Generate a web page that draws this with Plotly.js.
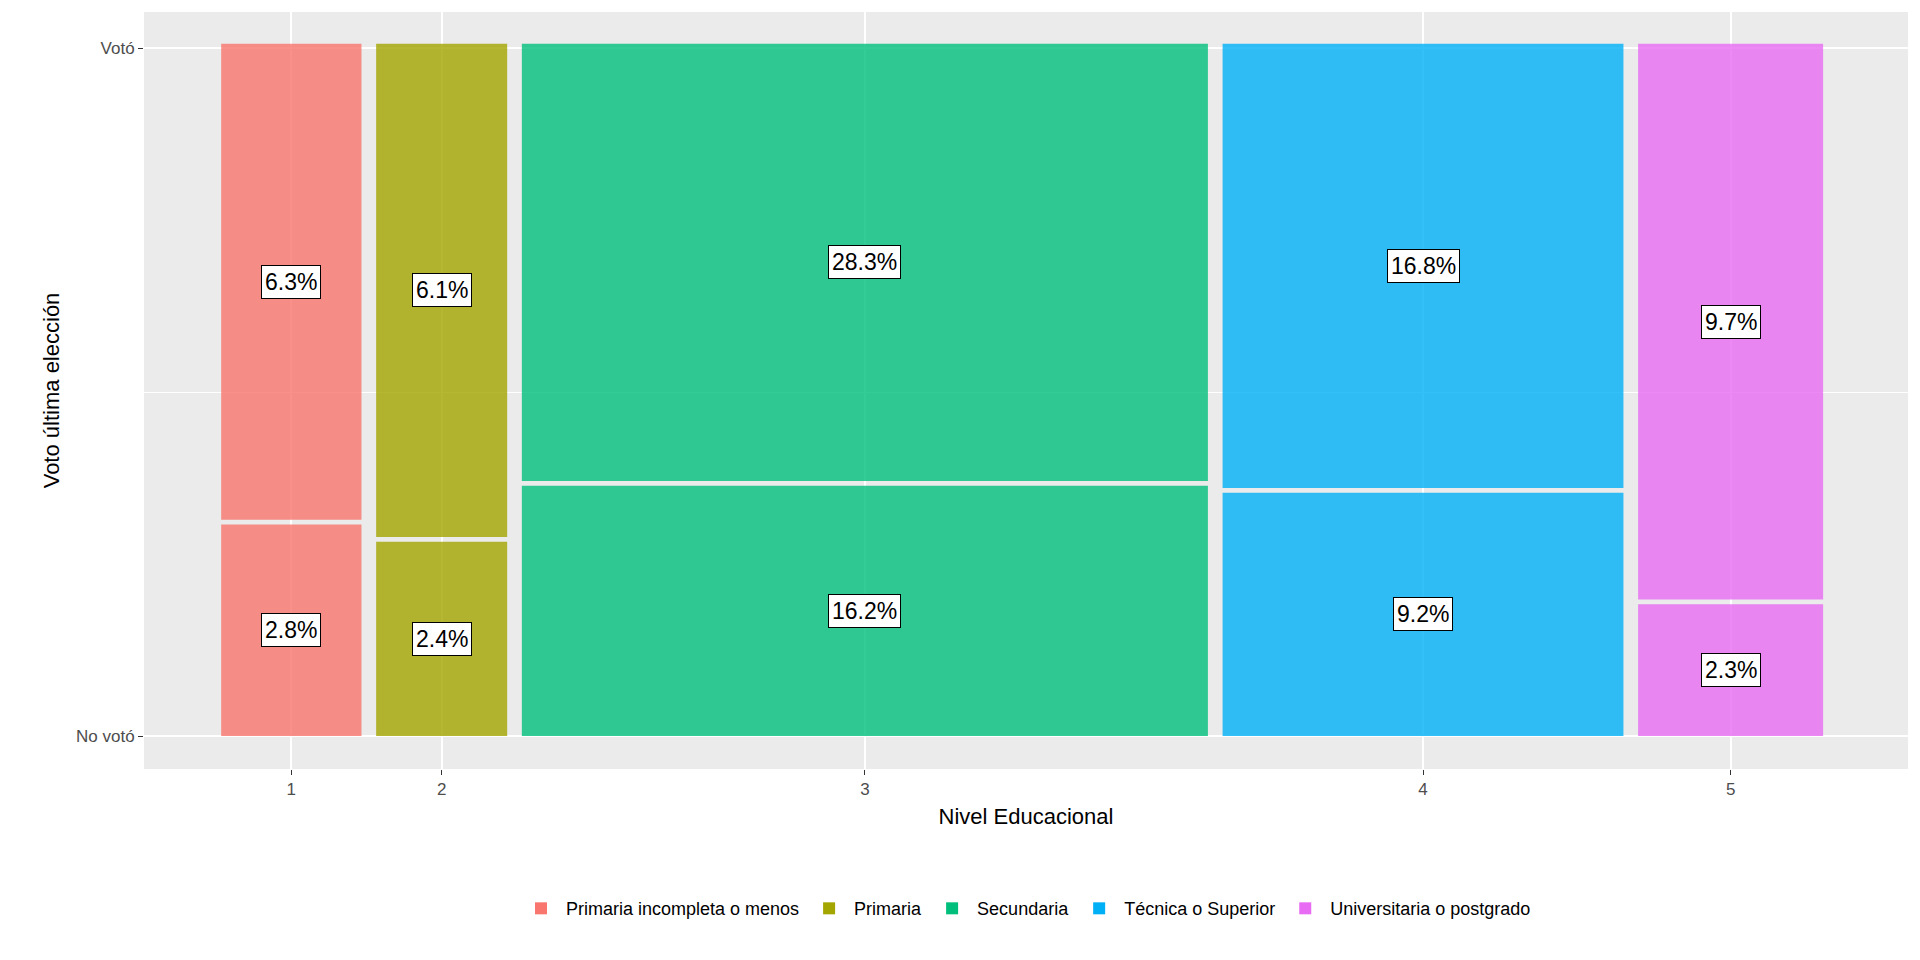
<!DOCTYPE html>
<html>
<head>
<meta charset="utf-8">
<script src="https://cdn.plot.ly/plotly-3.0.1.min.js"></script>
<style>body{margin:0}#chart{width:1920px;height:960px}</style>
</head>
<body>
<div id="chart"></div>
<script>
// percentages of total sample
const niveles = ["Primaria incompleta o menos", "Primaria", "Secundaria", "Técnica o Superior", "Universitaria o postgrado"];
const tickLabels = ["1", "2", "3", "4", "5"];
const noVoto = [2.8, 2.4, 16.2, 9.2, 2.3];
const voto = [6.3, 6.1, 28.3, 16.8, 9.7];
const colores = ["#F8766D", "#A3A500", "#00BF7D", "#00B0F6", "#E76BF3"];

const GAP_X = 0.0095;
const GAP_Y = 0.007;

const totals = niveles.map((_, i) => noVoto[i] + voto[i]);
const grand = totals.reduce((a, b) => a + b, 0);

const centers = [];
const widths = [];
let cursor = 0;
totals.forEach((t) => {
  const w = t / grand;
  centers.push(cursor + w / 2);
  widths.push(w);
  cursor += w + GAP_X;
});

const traces = [];
const annotations = [];
niveles.forEach((name, i) => {
  const pNo = noVoto[i] / totals[i];
  const hNo = pNo;
  const hSi = 1 - pNo;
  traces.push({
    type: "bar", x: [centers[i]], y: [hNo], base: [0], width: [widths[i]],
    marker: { color: colores[i], opacity: 0.8, line: { width: 0 } },
    name: name, legendgroup: name, showlegend: true, hoverinfo: "skip",
  });
  traces.push({
    type: "bar", x: [centers[i]], y: [hSi], base: [hNo + GAP_Y], width: [widths[i]],
    marker: { color: colores[i], opacity: 0.8, line: { width: 0 } },
    name: name, legendgroup: name, showlegend: false, hoverinfo: "skip",
  });
  const lab = (txt, y) => ({
    x: centers[i], y: y, text: txt, showarrow: false,
    font: { size: 23, color: "black", family: "Liberation Sans, Arial, sans-serif" },
    bgcolor: "white", bordercolor: "black", borderwidth: 1, borderpad: 3,
  });
  annotations.push(lab(noVoto[i].toFixed(1) + "%", hNo / 2));
  annotations.push(lab(voto[i].toFixed(1) + "%", hNo + GAP_Y + hSi / 2));
});

const layout = {
  barmode: "overlay",
  font: { family: "Liberation Sans, Arial, sans-serif", color: "#4D4D4D" },
  paper_bgcolor: "white",
  plot_bgcolor: "#EBEBEB",
  margin: { l: 144, r: 12, t: 12, b: 191 },
  xaxis: {
    range: [-0.05, 1.093],
    tickvals: centers, ticktext: tickLabels,
    tickfont: { size: 17, color: "#4D4D4D" },
    ticks: "outside", ticklen: 5, tickcolor: "#333333",
    gridcolor: "white", gridwidth: 2, zeroline: false, showline: false,
    title: { text: "Nivel Educacional", font: { size: 22, color: "black" }, standoff: 10 },
  },
  yaxis: {
    range: [-0.048, 1.053],
    tickvals: [0, 1], ticktext: ["No votó", "Votó"],
    tickfont: { size: 17, color: "#4D4D4D" },
    ticks: "outside", ticklen: 5, tickcolor: "#333333",
    gridcolor: "white", gridwidth: 2, zeroline: false, showline: false,
    minor: { tickvals: [0.5], showgrid: true, gridcolor: "white", gridwidth: 1 },
    title: { text: "Voto última elección", font: { size: 22, color: "black" }, standoff: 10 },
  },
  legend: {
    orientation: "h", x: 0.5, xanchor: "center", y: -0.16, yanchor: "top",
    font: { size: 18, color: "black" }, itemwidth: 40, traceorder: "normal",
  },
  annotations: annotations,
};

Plotly.newPlot("chart", traces, layout, { displayModeBar: false });
</script>
</body>
</html>
